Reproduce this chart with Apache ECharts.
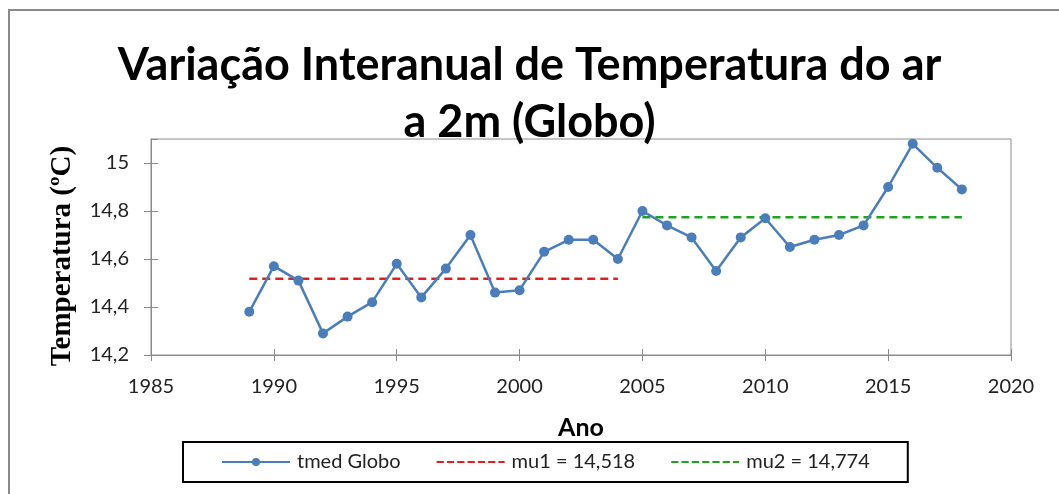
<!DOCTYPE html>
<html>
<head>
<meta charset="utf-8">
<script src="https://cdn.jsdelivr.net/npm/echarts@6/dist/echarts.min.js"></script>
<style>
  html, body { margin: 0; padding: 0; background: #fff; }
  #main { width: 1059px; height: 494px; }
</style>
</head>
<body>
<div id="main"></div>
<script>
// anos e temperatura media global
var anos = [1989, 1990, 1991, 1992, 1993, 1994, 1995, 1996, 1997, 1998, 1999,
            2000, 2001, 2002, 2003, 2004, 2005, 2006, 2007, 2008, 2009, 2010,
            2011, 2012, 2013, 2014, 2015, 2016, 2017, 2018]
var tmed = [14.38, 14.57, 14.51, 14.29, 14.36, 14.42, 14.58, 14.44, 14.56, 14.70, 14.46,
            14.47, 14.63, 14.68, 14.68, 14.60, 14.80, 14.74, 14.69, 14.55, 14.69, 14.77,
            14.65, 14.68, 14.70, 14.74, 14.90, 15.08, 14.98, 14.89]
// medias dos dois periodos
var mu1 = 14.518
var mu1Anos = [1989, 2004]
var mu2 = 14.774
var mu2Anos = [2005, 2018]
var xTicks = [1985, 1990, 1995, 2000, 2005, 2010, 2015, 2020]
var yTicks = [14.2, 14.4, 14.6, 14.8, 15.0]

var FONT = 'Lato'
var virgula = function (v) { return String(v).replace('.', ',') }
var DASHES = 'path://M0,0h7v2h-7zM10,0h7v2h-7zM20,0h7v2h-7zM30,0h7v2h-7zM40,0h7v2h-7zM50,0h7v2h-7zM60,0h6v2h-6z'

var chart = echarts.init(document.getElementById('main'))

var baseX = {
  type: 'value',
  min: xTicks[0],
  max: xTicks[xTicks.length - 1],
  interval: 5,
  splitLine: { show: false }
}
var baseY = {
  type: 'value',
  min: yTicks[0],
  max: 15.1,
  interval: 0.2,
  splitLine: { show: false }
}

chart.setOption({
  animation: false,
  title: {
    text: 'Variação Interanual de Temperatura do ar\na 2m (Globo)',
    left: 'center',
    top: 32,
    textStyle: {
      fontFamily: FONT,
      fontSize: 45,
      fontWeight: 'bold',
      color: '#000',
      lineHeight: 57
    }
  },
  graphic: [{
    type: 'rect',
    shape: { x: 9, y: 10, width: 1200, height: 600 },
    style: { fill: 'none', stroke: '#8a8a8a', lineWidth: 2 },
    silent: true
  }],
  grid: {
    left: 151,
    right: 48,
    top: 139,
    bottom: 139,
    show: true,
    borderColor: '#8a8a8a',
    borderWidth: 1
  },
  xAxis: [
    Object.assign({}, baseX, {
      name: 'Ano',
      nameLocation: 'middle',
      nameGap: 60,
      nameTextStyle: { fontFamily: FONT, fontSize: 25, fontWeight: 'bold', color: '#000' },
      axisLine: { lineStyle: { color: '#8a8a8a', width: 1 } },
      axisTick: { length: 6, lineStyle: { color: '#8a8a8a' } },
      axisLabel: { fontFamily: FONT, fontSize: 20, color: '#222', margin: 22, formatter: String }
    }),
    Object.assign({}, baseX, {
      position: 'bottom',
      axisLine: { show: false },
      axisTick: { inside: true, length: 6, lineStyle: { color: '#8a8a8a' } },
      axisLabel: { show: false }
    })
  ],
  yAxis: [
    Object.assign({}, baseY, {
      name: 'Temperatura (ºC)',
      nameLocation: 'middle',
      nameGap: 74,
      nameTextStyle: {
        fontFamily: 'Liberation Serif', fontSize: 29, fontWeight: 'bold', color: '#000',
        padding: [0, 18, 0, 0]
      },
      axisLine: { show: true, lineStyle: { color: '#8a8a8a', width: 1 } },
      axisTick: { show: true, length: 7, lineStyle: { color: '#8a8a8a' } },
      axisLabel: {
        fontFamily: FONT, fontSize: 20, color: '#222', margin: 22,
        showMaxLabel: false,
        formatter: virgula
      }
    }),
    Object.assign({}, baseY, {
      position: 'left',
      axisLine: { show: false },
      axisTick: { show: true, inside: true, length: 7, lineStyle: { color: '#8a8a8a' } },
      axisLabel: { show: false }
    })
  ],
  legend: {
    left: 183,
    top: 442,
    padding: [10, 38, 10, 38],
    itemGap: 36,
    itemWidth: 68,
    itemHeight: 10,
    borderColor: '#000',
    borderWidth: 2,
    textStyle: { fontFamily: FONT, fontSize: 20, color: '#222', padding: [0, 0, 0, 2] },
    data: [
      { name: 'tmed Globo' },
      { name: 'mu1 = ' + virgula(mu1), icon: DASHES },
      { name: 'mu2 = ' + virgula(mu2), icon: DASHES }
    ]
  },
  series: [
    {
      name: 'mu1 = ' + virgula(mu1),
      type: 'line',
      symbol: 'none',
      z: 1,
      color: '#e0201f',
      lineStyle: { color: '#e0201f', width: 2.5, type: [8, 5] },
      data: mu1Anos.map(function (a) { return [a, mu1] })
    },
    {
      name: 'mu2 = ' + virgula(mu2),
      type: 'line',
      symbol: 'none',
      z: 1,
      color: '#1ea51e',
      lineStyle: { color: '#1ea51e', width: 2.5, type: [8, 5] },
      data: mu2Anos.map(function (a) { return [a, mu2] })
    },
    {
      name: 'tmed Globo',
      type: 'line',
      z: 3,
      symbol: 'circle',
      symbolSize: 10,
      color: '#4a7ebb',
      lineStyle: { color: '#4a7ebb', width: 2.5 },
      itemStyle: { color: '#4a7ebb' },
      data: anos.map(function (a, i) { return [a, tmed[i]] })
    }
  ]
})
</script>
</body>
</html>
